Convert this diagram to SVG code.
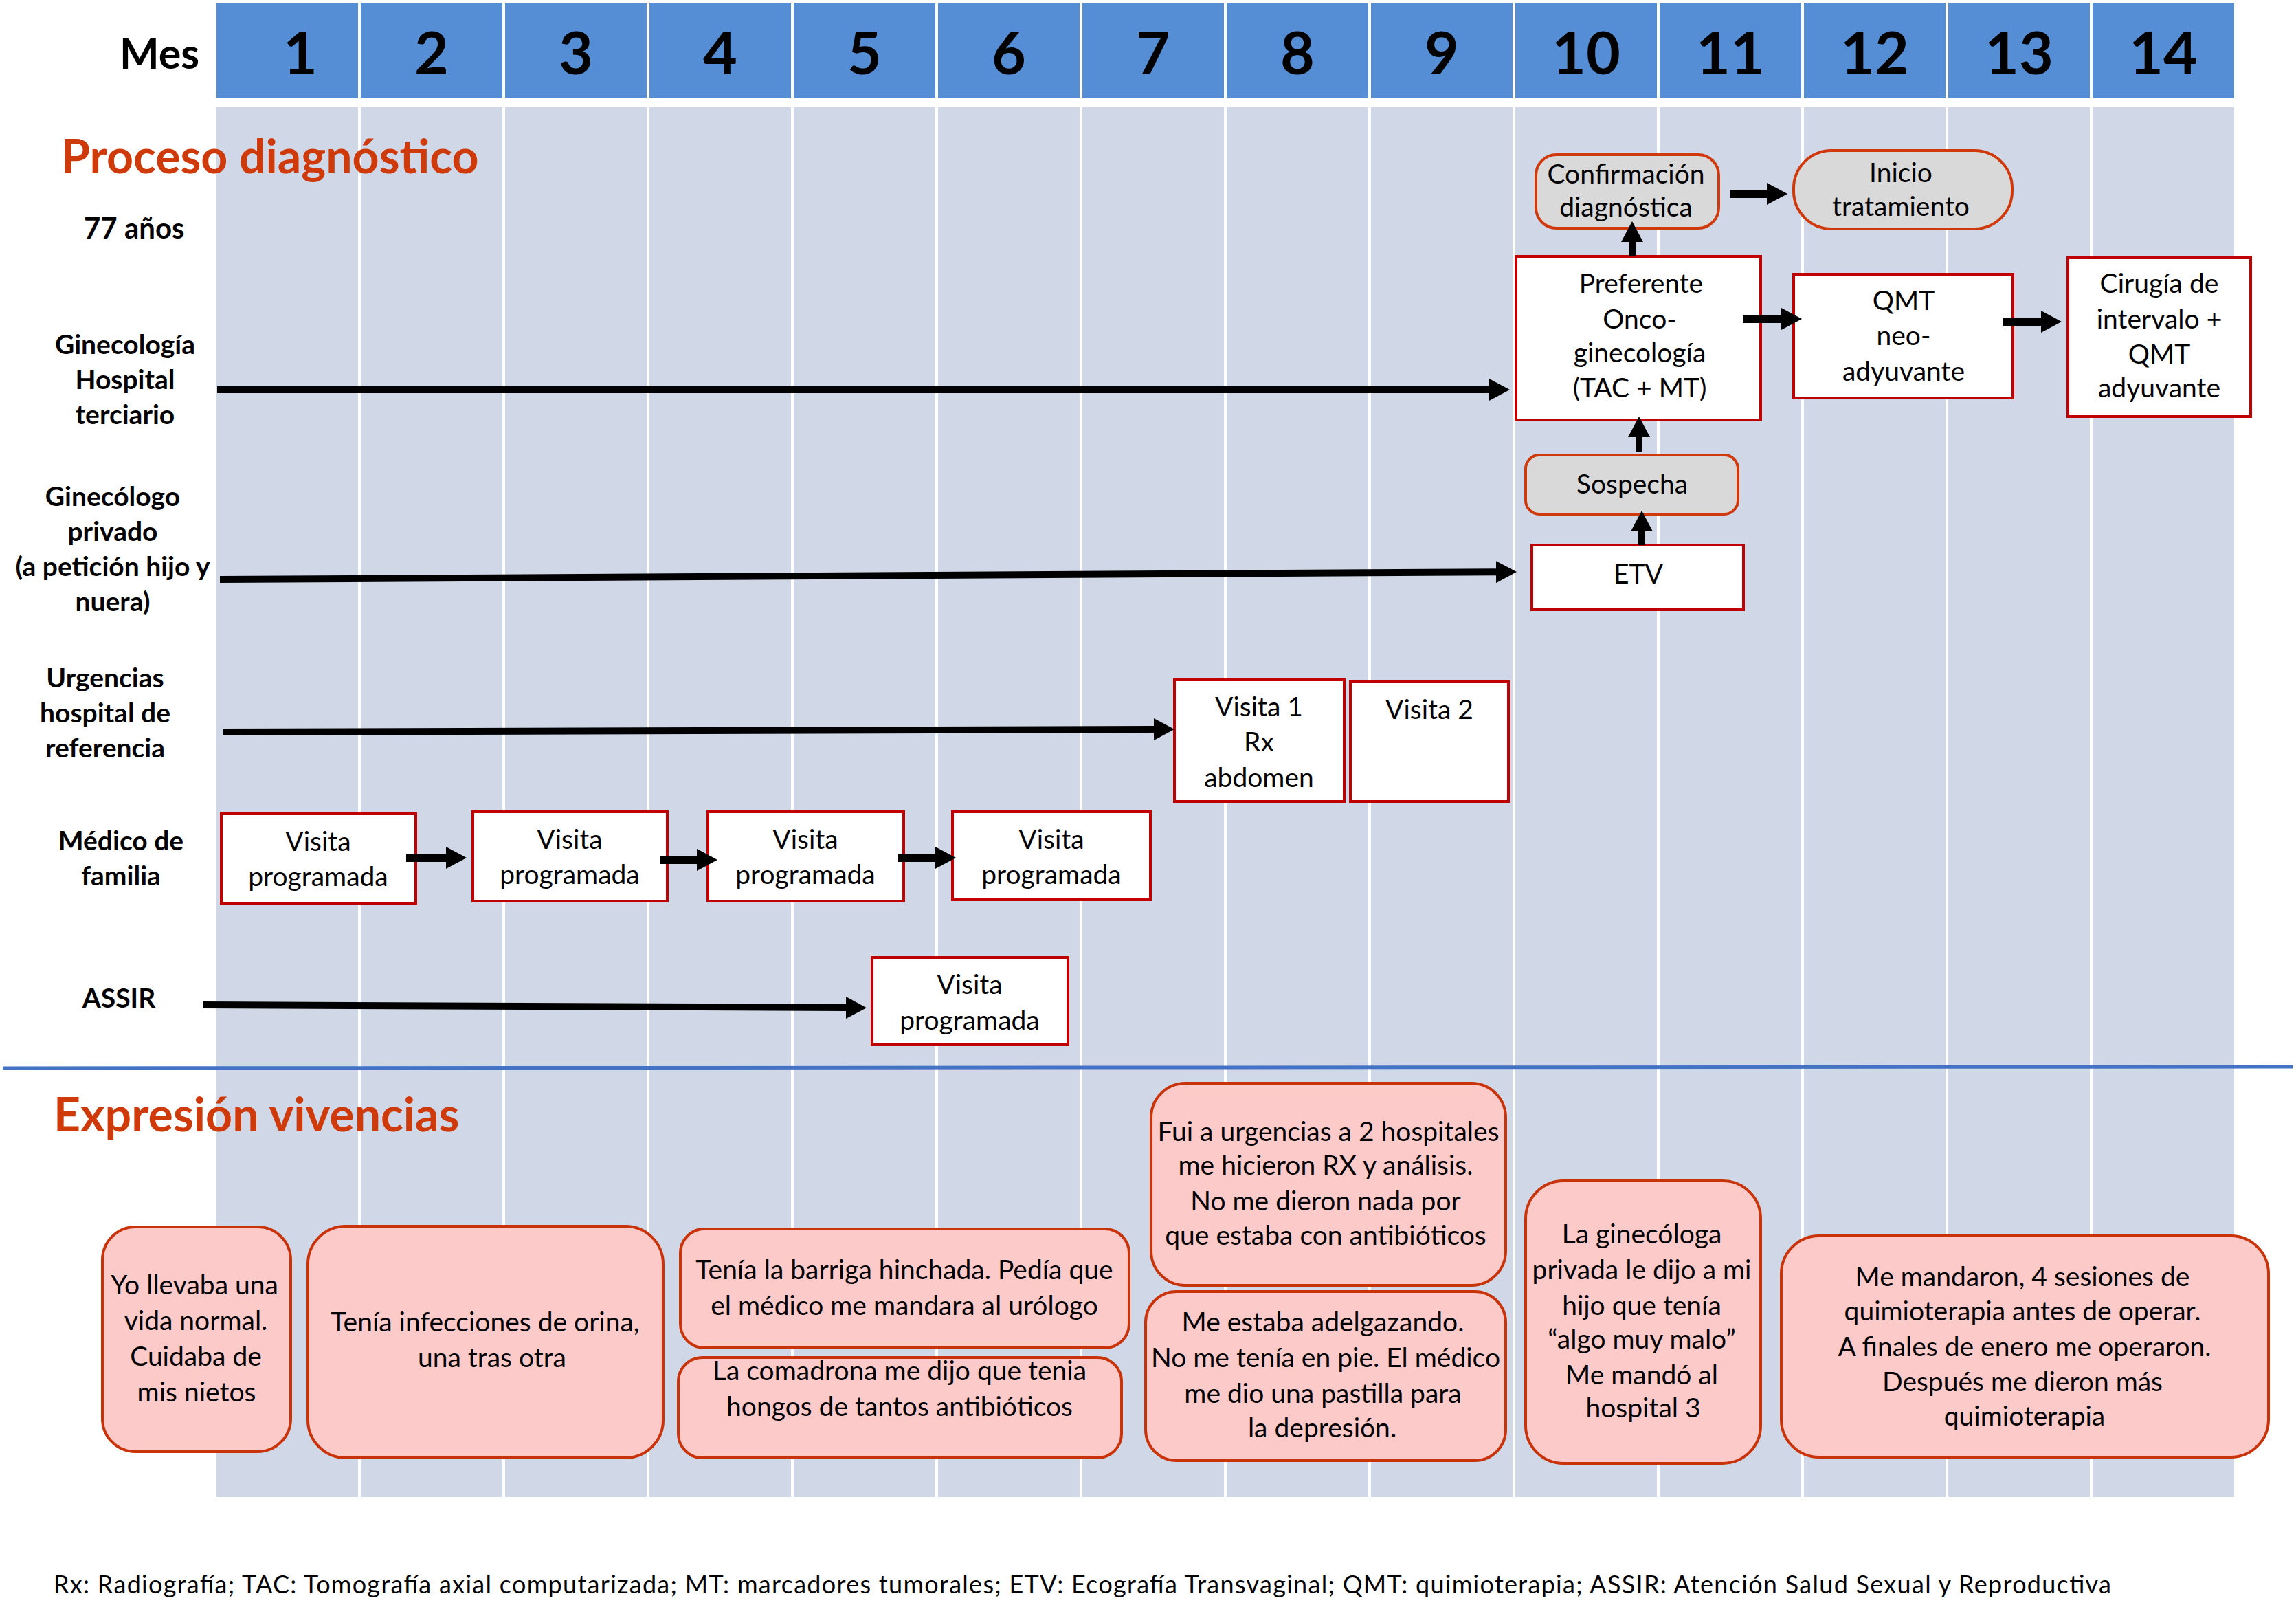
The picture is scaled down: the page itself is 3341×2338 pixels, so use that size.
<svg xmlns="http://www.w3.org/2000/svg" width="3341" height="2338" viewBox="0 0 3341 2338">
<defs>
<style>
text{font-family:Lato,"Liberation Sans",sans-serif;fill:#000}
.hd{fill:#558ED5}
.bd{fill:#D0D8E8}
.num{font-size:86px;font-weight:bold;text-anchor:middle}
.ttl{font-size:68px;font-weight:bold;fill:#CF3A0B}
.lbl{font-size:39px;font-weight:bold;text-anchor:middle}
.bx{fill:#fff;stroke:#C00000;stroke-width:4}
.gr{fill:#D9D9D9;stroke:#D0390C;stroke-width:4}
.pk{fill:#FDCACA;stroke:#C9330A;stroke-width:4}
.t{font-size:39px;text-anchor:middle}
.v{font-size:39px;text-anchor:middle}
.ar{stroke:#000;stroke-width:10;fill:none;marker-end:url(#ah)}
.as{stroke:#000;stroke-width:12;fill:none;marker-end:url(#ah)}
</style>
<marker id="ah" markerUnits="userSpaceOnUse" markerWidth="30" markerHeight="32" viewBox="0 0 30 32" refX="0" refY="16" orient="auto"><path d="M0,0L30,16L0,32z" fill="#000"/></marker>
</defs>
<rect width="3341" height="2338" fill="#fff"/>
<g id="grid">
<rect class="hd" x="315" y="4" width="206" height="139"/><rect class="hd" x="525" y="4" width="206" height="139"/><rect class="hd" x="735" y="4" width="206" height="139"/><rect class="hd" x="945" y="4" width="206" height="139"/><rect class="hd" x="1155" y="4" width="206" height="139"/><rect class="hd" x="1365" y="4" width="206" height="139"/><rect class="hd" x="1575" y="4" width="206" height="139"/><rect class="hd" x="1785" y="4" width="206" height="139"/><rect class="hd" x="1995" y="4" width="206" height="139"/><rect class="hd" x="2205" y="4" width="206" height="139"/><rect class="hd" x="2415" y="4" width="206" height="139"/><rect class="hd" x="2625" y="4" width="206" height="139"/><rect class="hd" x="2835" y="4" width="206" height="139"/><rect class="hd" x="3045" y="4" width="206" height="139"/>
<rect class="bd" x="315" y="156" width="206" height="2022"/><rect class="bd" x="525" y="156" width="206" height="2022"/><rect class="bd" x="735" y="156" width="206" height="2022"/><rect class="bd" x="945" y="156" width="206" height="2022"/><rect class="bd" x="1155" y="156" width="206" height="2022"/><rect class="bd" x="1365" y="156" width="206" height="2022"/><rect class="bd" x="1575" y="156" width="206" height="2022"/><rect class="bd" x="1785" y="156" width="206" height="2022"/><rect class="bd" x="1995" y="156" width="206" height="2022"/><rect class="bd" x="2205" y="156" width="206" height="2022"/><rect class="bd" x="2415" y="156" width="206" height="2022"/><rect class="bd" x="2625" y="156" width="206" height="2022"/><rect class="bd" x="2835" y="156" width="206" height="2022"/><rect class="bd" x="3045" y="156" width="206" height="2022"/>
<text x="174" y="100" font-size="61" font-weight="bold">Mes</text>
<text class="num" x="437" y="108">1</text><text class="num" x="628" y="108">2</text><text class="num" x="838" y="108">3</text><text class="num" x="1048" y="108">4</text><text class="num" x="1258" y="108">5</text><text class="num" x="1468" y="108">6</text><text class="num" x="1678" y="108">7</text><text class="num" x="1888" y="108">8</text><text class="num" x="2098" y="108">9</text><text class="num" x="2308" y="108">10</text><text class="num" x="2518" y="108">11</text><text class="num" x="2728" y="108">12</text><text class="num" x="2938" y="108">13</text><text class="num" x="3148" y="108">14</text>
<line x1="4" y1="1554" x2="3336" y2="1552" stroke="#4472C4" stroke-width="5"/>
</g>
<g id="labels">
<text class="ttl" x="89" y="252">Proceso diagnóstico</text>
<text x="122" y="347" font-size="42" font-weight="bold">77 años</text>
<text class="lbl" x="182" y="515">Ginecología</text><text class="lbl" x="182" y="566">Hospital</text><text class="lbl" x="182" y="617">terciario</text>
<text class="lbl" x="164" y="736">Ginecólogo</text><text class="lbl" x="164" y="787">privado</text><text class="lbl" x="164" y="838">(a petición hijo y</text><text class="lbl" x="164" y="889">nuera)</text>
<text class="lbl" x="153" y="1000">Urgencias</text><text class="lbl" x="153" y="1051">hospital de</text><text class="lbl" x="153" y="1102">referencia</text>
<text class="lbl" x="176" y="1237">Médico de</text><text class="lbl" x="176" y="1288">familia</text>
<text class="lbl" x="173" y="1466">ASSIR</text>
<text class="ttl" x="78" y="1646">Expresión vivencias</text>
<text x="78" y="2318" font-size="36" textLength="2994">Rx: Radiografía; TAC: Tomografía axial computarizada; MT: marcadores tumorales; ETV: Ecografía Transvaginal; QMT: quimioterapia; ASSIR: Atención Salud Sexual y Reproductiva</text>
</g>
<g id="n-confirmacion"><rect class="gr" x="2235" y="225" width="266" height="107" rx="30"/><text class="t" x="2366" y="267">Confirmación</text><text class="t" x="2366" y="315">diagnóstica</text></g>
<g id="n-inicio"><rect class="gr" x="2610" y="219" width="318" height="114" rx="55"/><text class="t" x="2766" y="265">Inicio</text><text class="t" x="2766" y="314">tratamiento</text></g>
<g id="n-preferente"><rect class="bx" x="2206" y="373" width="356" height="238"/><text class="t" x="2388" y="426">Preferente</text><text class="t" x="2386" y="478">Onco-</text><text class="t" x="2386" y="527">ginecología</text><text class="t" x="2386" y="578">(TAC + MT)</text></g>
<g id="n-qmt"><rect class="bx" x="2610" y="399" width="319" height="180"/><text class="t" x="2770" y="451">QMT</text><text class="t" x="2770" y="502">neo-</text><text class="t" x="2770" y="554">adyuvante</text></g>
<g id="n-cirugia"><rect class="bx" x="3009" y="375" width="266" height="231"/><text class="t" x="3142" y="426">Cirugía de</text><text class="t" x="3142" y="478">intervalo +</text><text class="t" x="3142" y="529">QMT</text><text class="t" x="3142" y="578">adyuvante</text></g>
<g id="n-sospecha"><rect class="gr" x="2220" y="662" width="309" height="86" rx="20"/><text class="t" x="2375" y="718">Sospecha</text></g>
<g id="n-etv"><rect class="bx" x="2229" y="793" width="308" height="94"/><text class="t" x="2384" y="849">ETV</text></g>
<g id="n-visita1"><rect class="bx" x="1709" y="989" width="247" height="177"/><text class="t" x="1832" y="1042">Visita 1</text><text class="t" x="1832" y="1093">Rx</text><text class="t" x="1832" y="1145">abdomen</text></g>
<g id="n-visita2"><rect class="bx" x="1965" y="992" width="230" height="174"/><text class="t" x="2080" y="1046">Visita 2</text></g>
<g id="n-mf1"><rect class="bx" x="322" y="1184" width="283" height="130"/><text class="t" x="463" y="1238">Visita</text><text class="t" x="463" y="1289">programada</text></g>
<g id="n-mf2"><rect class="bx" x="688" y="1181" width="283" height="130"/><text class="t" x="829" y="1235">Visita</text><text class="t" x="829" y="1286">programada</text></g>
<g id="n-mf3"><rect class="bx" x="1030" y="1181" width="285" height="130"/><text class="t" x="1172" y="1235">Visita</text><text class="t" x="1172" y="1286">programada</text></g>
<g id="n-mf4"><rect class="bx" x="1386" y="1181" width="288" height="128"/><text class="t" x="1530" y="1235">Visita</text><text class="t" x="1530" y="1286">programada</text></g>
<g id="n-assir"><rect class="bx" x="1269" y="1393" width="285" height="127"/><text class="t" x="1411" y="1446">Visita</text><text class="t" x="1411" y="1498">programada</text></g>
<g id="v1"><rect class="pk" x="149" y="1785" width="274" height="327" rx="48"/><text class="v" x="283" y="1883">Yo llevaba una</text><text class="v" x="285" y="1935">vida normal.</text><text class="v" x="285" y="1987">Cuidaba de</text><text class="v" x="286" y="2039">mis nietos</text></g>
<g id="v2"><rect class="pk" x="448" y="1784" width="517" height="337" rx="55"/><text class="v" x="706" y="1937">Tenía infecciones de orina,</text><text class="v" x="716" y="1989">una tras otra</text></g>
<g id="v3"><rect class="pk" x="990" y="1788" width="653" height="173" rx="35"/><text class="v" x="1316" y="1861">Tenía la barriga hinchada. Pedía que</text><text class="v" x="1316" y="1913">el médico me mandara al urólogo</text></g>
<g id="v4"><rect class="pk" x="987" y="1975" width="645" height="146" rx="35"/><text class="v" x="1309" y="2008">La comadrona me dijo que tenia</text><text class="v" x="1309" y="2060">hongos de tantos antibióticos</text></g>
<g id="v5"><rect class="pk" x="1675" y="1576" width="516" height="294" rx="50"/><text class="v" x="1933" y="1660">Fui a urgencias a 2 hospitales</text><text class="v" x="1929" y="1709">me hicieron RX y análisis.</text><text class="v" x="1929" y="1761">No me dieron nada por</text><text class="v" x="1929" y="1811">que estaba con antibióticos</text></g>
<g id="v6"><rect class="pk" x="1667" y="1879" width="524" height="246" rx="45"/><text class="v" x="1925" y="1937">Me estaba adelgazando.</text><text class="v" x="1929" y="1989">No me tenía en pie. El médico</text><text class="v" x="1925" y="2041">me dio una pastilla para</text><text class="v" x="1924" y="2091">la depresión.</text></g>
<g id="v7"><rect class="pk" x="2220" y="1718" width="342" height="411" rx="55"/><text class="v" x="2389" y="1809">La ginecóloga</text><text class="v" x="2389" y="1861">privada le dijo a mi</text><text class="v" x="2389" y="1913">hijo que tenía</text><text class="v" x="2389" y="1962">“algo muy malo”</text><text class="v" x="2389" y="2014">Me mandó al</text><text class="v" x="2391" y="2062">hospital 3</text></g>
<g id="v8"><rect class="pk" x="2592" y="1798" width="709" height="322" rx="55"/><text class="v" x="2943" y="1871">Me mandaron, 4 sesiones de</text><text class="v" x="2943" y="1921">quimioterapia antes de operar.</text><text class="v" x="2946" y="1973">A finales de enero me operaron.</text><text class="v" x="2943" y="2024">Después me dieron más</text><text class="v" x="2946" y="2074">quimioterapia</text></g>
<g id="connectors">
<line id="c1" class="ar" x1="316" y1="567" x2="2167" y2="567"/>
<line id="c2" class="ar" x1="320" y1="843" x2="2177" y2="832.2"/>
<line id="c3" class="ar" x1="324" y1="1065" x2="1679" y2="1061"/>
<line id="c4" class="ar" x1="295" y1="1462" x2="1231" y2="1466"/>
<line id="c5" class="as" x1="591" y1="1248" x2="649" y2="1248"/>
<line id="c6" class="as" x1="960" y1="1251" x2="1014" y2="1251"/>
<line id="c7" class="as" x1="1307" y1="1248" x2="1361" y2="1248"/>
<line id="c8" class="ar" x1="2385" y1="658" x2="2385" y2="636"/>
<line id="c9" class="ar" x1="2389" y1="793" x2="2389" y2="773"/>
<line id="c10" class="ar" x1="2375" y1="373" x2="2375" y2="352"/>
<line id="c11" class="as" x1="2518" y1="282" x2="2571" y2="282"/>
<line id="c12" class="as" x1="2537" y1="464" x2="2592" y2="464"/>
<line id="c13" class="as" x1="2915" y1="468" x2="2970" y2="468"/>
</g>
</svg>
